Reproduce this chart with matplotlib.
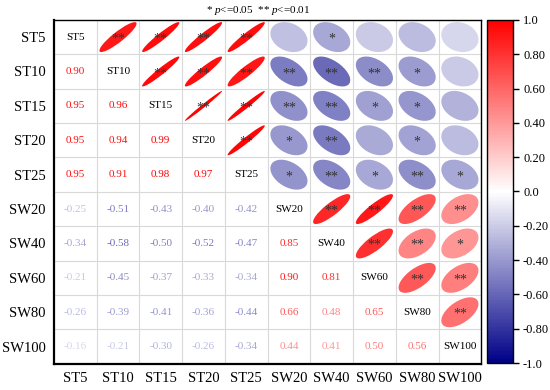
import numpy as np
import matplotlib.pyplot as plt
from matplotlib.patches import Ellipse
from matplotlib.colors import LinearSegmentedColormap, Normalize
from matplotlib.cm import ScalarMappable

plt.rcParams['font.family'] = ['Liberation Serif', 'DejaVu Serif']
plt.rcParams['mathtext.fontset'] = 'custom'
plt.rcParams['mathtext.it'] = 'Liberation Serif:italic'
plt.rcParams['mathtext.rm'] = 'Liberation Serif'

labels = ['ST5', 'ST10', 'ST15', 'ST20', 'ST25',
          'SW20', 'SW40', 'SW60', 'SW80', 'SW100']

# lower triangle of the correlation matrix, row by row
lower = [
    [],
    [0.90],
    [0.95, 0.96],
    [0.95, 0.94, 0.99],
    [0.95, 0.91, 0.98, 0.97],
    [-0.25, -0.51, -0.43, -0.40, -0.42],
    [-0.34, -0.58, -0.50, -0.52, -0.47, 0.85],
    [-0.21, -0.45, -0.37, -0.33, -0.34, 0.90, 0.81],
    [-0.26, -0.39, -0.41, -0.36, -0.44, 0.66, 0.48, 0.65],
    [-0.16, -0.21, -0.30, -0.26, -0.34, 0.44, 0.41, 0.50, 0.56],
]

# significance marks for the upper triangle, row by row
stars = [
    ['**', '**', '**', '**', '', '*', '', '', ''],
    ['**', '**', '**', '**', '**', '**', '*', ''],
    ['**', '**', '**', '**', '*', '*', ''],
    ['**', '*', '**', '', '*', ''],
    ['*', '**', '*', '**', '*'],
    ['**', '**', '**', '**'],
    ['**', '**', '*'],
    ['**', '**'],
    ['**'],
]

n = len(labels)
corr = np.eye(n)
for i, row in enumerate(lower):
    for j, v in enumerate(row):
        corr[i, j] = corr[j, i] = v

cmap = LinearSegmentedColormap.from_list('rwb', ['#000088', '#ffffff', '#ff0000'])
norm = Normalize(-1, 1)

fig = plt.figure(figsize=(5.5, 3.9), dpi=100)
ax = fig.add_axes([0.098, 0.067, 0.777, 0.882])
ax.set_xlim(0, n)
ax.set_ylim(n, 0)

for k in range(1, n):
    ax.axhline(k, color='#d9d9d9', lw=0.8, zorder=0)
    ax.axvline(k, color='#d9d9d9', lw=0.8, zorder=0)

d = 0.87
for i in range(n):
    for j in range(n):
        r = corr[i, j]
        cx, cy = j + 0.5, i + 0.5
        if i == j:
            ax.text(cx, cy, labels[i], ha='center', va='center',
                    fontsize=8, color='black')
        elif i > j:
            ax.text(cx, cy, f'{r:.2f}', ha='center', va='center',
                    fontsize=8, color=cmap(norm(r)))
        else:
            w = d * np.sqrt(1 + abs(r))
            h = d * np.sqrt(1 - abs(r))
            ang = -45 if r > 0 else 45
            ax.add_patch(Ellipse((cx, cy), w, h, angle=ang,
                                 facecolor=cmap(norm(r)), edgecolor='none'))
            s = stars[i][j - i - 1]
            if s:
                ax.text(cx, cy + 0.06, s, ha='center', va='center',
                        fontsize=10, color='#333333')

ax.set_xticks(np.arange(n) + 0.5)
ax.set_xticklabels(labels, fontsize=10.5)
ax.set_yticks(np.arange(n) + 0.5)
ax.set_yticklabels(labels, fontsize=10.5)
ax.tick_params(length=0, pad=6)
for side in ['left', 'bottom']:
    ax.spines[side].set_linewidth(1.6)
for side in ['top', 'right']:
    ax.spines[side].set_linewidth(1.0)

fig.text(0.469, 0.974, r'* $p$<=0.05  ** $p$<=0.01', ha='center',
         va='center', fontsize=8)

cax = fig.add_axes([0.886, 0.069, 0.046, 0.88])
cb = fig.colorbar(ScalarMappable(norm=norm, cmap=cmap), cax=cax)
cb.set_ticks([1.0, 0.8, 0.6, 0.4, 0.2, 0.0, -0.2, -0.4, -0.6, -0.8, -1.0])
cb.set_ticklabels(['1.0', '0.80', '0.60', '0.40', '0.20', '0.0',
                   '-0.20', '-0.40', '-0.60', '-0.80', '-1.0'])
cb.ax.tick_params(labelsize=9, length=4, width=1)
cb.outline.set_linewidth(1.0)

fig.savefig('out.png', dpi=100)
